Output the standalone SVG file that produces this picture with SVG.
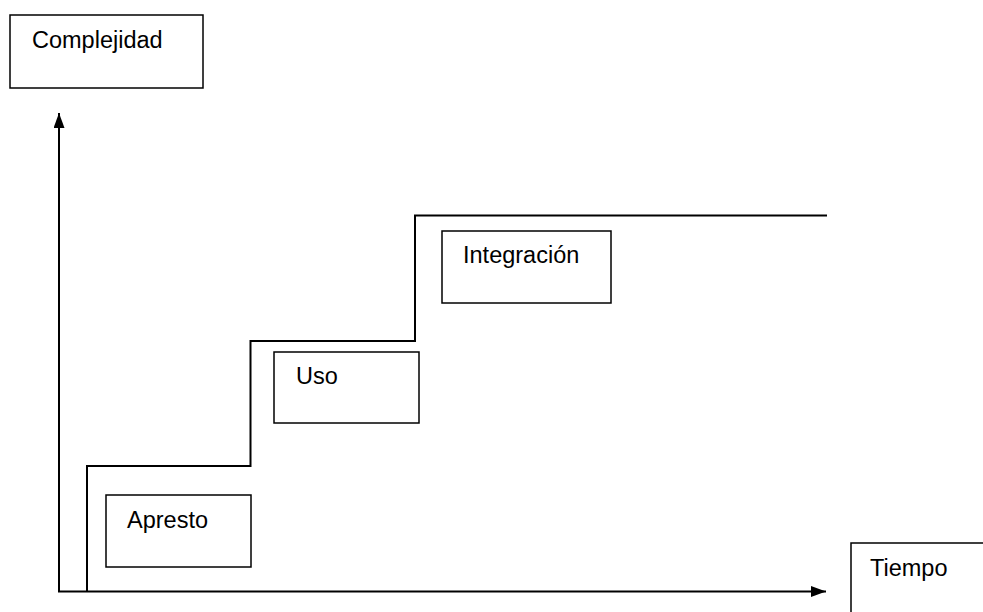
<svg xmlns="http://www.w3.org/2000/svg" width="983" height="612" viewBox="0 0 983 612">
<style>
.box{fill:#fff;stroke:#000;stroke-width:1.5}
.t{font-family:"Liberation Sans",Arial,sans-serif;font-size:23.5px;fill:#000}
.ln{fill:none;stroke:#000;stroke-width:2}
</style>
<defs>
<marker id="ah" viewBox="0 0 15 11" refX="15" refY="5.5" markerWidth="15" markerHeight="11" markerUnits="userSpaceOnUse" orient="auto">
<path d="M0,0 L15,5.5 L0,11 Z" fill="#000"/>
</marker>
</defs>
<rect width="983" height="612" fill="#fff"/>
<g id="connectors">
<path class="ln" d="M59,591.5 L59,113" marker-end="url(#ah)"/>
<path class="ln" d="M58,591.5 L826,591.5" marker-end="url(#ah)"/>
<path class="ln" d="M87,591.5 L87,466 L250.5,466 L250.5,341 L415,341 L415,215.5 L827,215.5"/>
</g>
<g id="complejidad"><rect class="box" x="10" y="15" width="193" height="73"/><text class="t" x="32" y="48">Complejidad</text></g>
<g id="apresto"><rect class="box" x="106" y="495" width="145" height="72"/><text class="t" x="127" y="528">Apresto</text></g>
<g id="uso"><rect class="box" x="274" y="352" width="145" height="71"/><text class="t" x="296" y="384">Uso</text></g>
<g id="integracion"><rect class="box" x="442" y="231" width="169" height="72"/><text class="t" x="463" y="263">Integración</text></g>
<g id="tiempo"><rect class="box" x="851" y="543" width="150" height="90"/><text class="t" x="870" y="576">Tiempo</text></g>
</svg>
